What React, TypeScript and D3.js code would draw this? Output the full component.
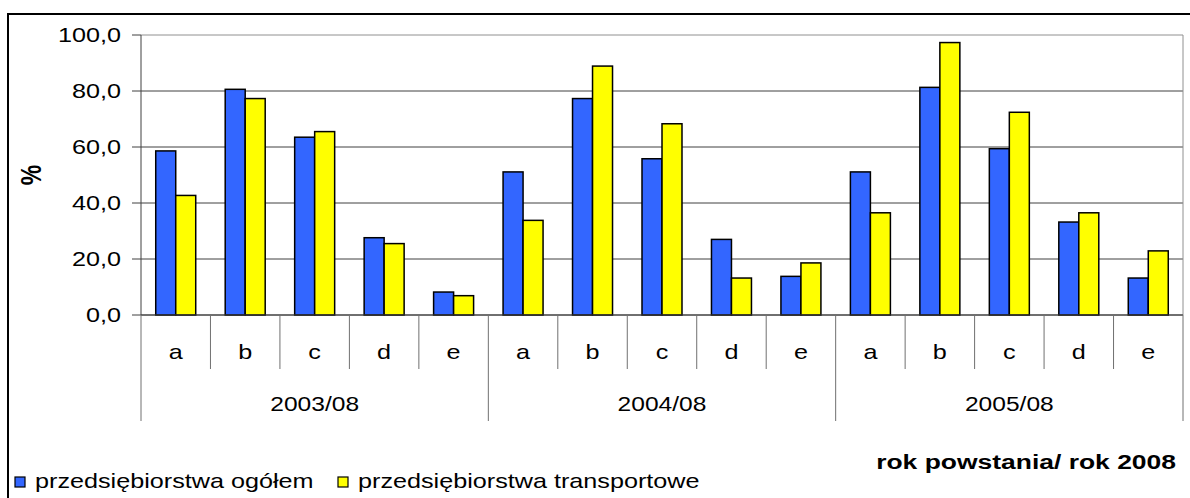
import React from "react";
import * as d3 from "d3";

const groups = ["2003/08", "2004/08", "2005/08"];
const subcats = ["a", "b", "c", "d", "e"];
const seriesNames = ["przedsiębiorstwa ogółem", "przedsiębiorstwa transportowe"];
const ogolem = [58.6, 80.6, 63.5, 27.6, 8.2, 51.1, 77.3, 55.8, 27.0, 13.8, 51.1, 81.3, 59.4, 33.2, 13.2];
const transportowe = [42.7, 77.3, 65.5, 25.5, 6.9, 33.8, 88.9, 68.3, 13.2, 18.6, 36.5, 97.3, 72.4, 36.5, 22.9];
const yTicks = [0, 20, 40, 60, 80, 100];
const colors = ["#3366FF", "#FFFF00"];

const W = 1190;
const H = 498;
const SX = 1.26;
const FONT = "'Liberation Sans', Arial, sans-serif";

function SText(props: any) {
  const { x, y, anchor, size, bold, children, rotate } = props;
  return (
    <text
      transform={`translate(${x},${y}) scale(${SX},1)${rotate ? ` rotate(${rotate})` : ""}`}
      textAnchor={anchor || "start"}
      fontSize={size}
      fontWeight={bold ? "bold" : "normal"}
      fontFamily={FONT}
      fill="#000"
    >
      {children}
    </text>
  );
}

export default function App() {
  const left = 141, right = 1183, top = 35, bottom = 315;
  const keys = groups.flatMap((g) => subcats.map((s) => `${g}|${s}`));
  const x = d3.scaleBand<string>().domain(keys).range([left, right]).padding(0);
  const bw = x.bandwidth();
  const inner = d3.scaleBand<number>().domain([0, 1]).range([0, bw]).paddingInner(0).paddingOuter(0.737);
  const y = d3.scaleLinear().domain([0, 100]).range([bottom, top]);
  const series = [ogolem, transportowe];
  const fmt = (v: number) => v.toFixed(1).replace(".", ",");

  return (
    <svg width={W} height={H} style={{ position: "absolute", left: 0, top: 0 }}>
      <rect x={0} y={0} width={W} height={H} fill="#fff" />
      <rect x={8} y={14} width={1300} height={600} fill="none" stroke="#000" strokeWidth={2} />
      {/* gridlines */}
      {yTicks.map((t) => (
        <line key={t} x1={left} x2={right} y1={y(t)} y2={y(t)} stroke={t === 100 ? "#909090" : "#404040"} strokeWidth={1} />
      ))}
      <line x1={right} x2={right} y1={top} y2={bottom} stroke="#909090" strokeWidth={1} />
      {/* y axis */}
      <line x1={left} x2={left} y1={top} y2={bottom} stroke="#404040" strokeWidth={1} />
      {yTicks.map((t) => (
        <g key={"yt" + t}>
          <line x1={left - 9} x2={left} y1={y(t)} y2={y(t)} stroke="#404040" />
          <SText x={121} y={y(t) + 7} anchor="end" size={20}>{fmt(t)}</SText>
        </g>
      ))}
      {/* bars */}
      {keys.map((k, i) => (
        <g key={k}>
          {series.map((s, j) => (
            <rect
              key={j}
              x={(x(k) as number) + (inner(j) as number)}
              y={y(s[i])}
              width={inner.bandwidth()}
              height={bottom - y(s[i])}
              fill={colors[j]}
              stroke="#000"
              strokeWidth={1.5}
            />
          ))}
        </g>
      ))}
      {/* x axis */}
      <line x1={left} x2={right} y1={bottom} y2={bottom} stroke="#404040" strokeWidth={1.2} />
      {keys.map((k, i) => (
        <line
          key={"sep" + k}
          x1={x(k) as number}
          x2={x(k) as number}
          y1={bottom}
          y2={i % 5 === 0 ? 421 : 369}
          stroke="#707070"
          strokeWidth={1}
        />
      ))}
      <line x1={right} x2={right} y1={bottom} y2={421} stroke="#707070" strokeWidth={1} />
      {keys.map((k, i) => (
        <SText key={"lab" + k} x={(x(k) as number) + bw / 2} y={359} anchor="middle" size={20}>
          {subcats[i % 5]}
        </SText>
      ))}
      {groups.map((g) => (
        <SText key={"g" + g} x={(x(`${g}|a`) as number) + bw * 2.5} y={411} anchor="middle" size={19.5}>
          {g}
        </SText>
      ))}
      {/* y axis title */}
      <SText x={41} y={175} anchor="middle" size={23} bold rotate={-90}>%</SText>
      {/* x axis title */}
      <SText x={1176} y={469} anchor="end" size={21} bold>rok powstania/ rok 2008</SText>
      {/* legend */}
      {[15, 338].map((lx, j) => (
        <g key={"leg" + j}>
          <rect x={lx} y={477} width={10} height={10} fill={colors[j]} stroke="#000" strokeWidth={1.2} />
          <SText x={lx + (j === 0 ? 20 : 20)} y={488} size={20}>{seriesNames[j]}</SText>
        </g>
      ))}
    </svg>
  );
}
